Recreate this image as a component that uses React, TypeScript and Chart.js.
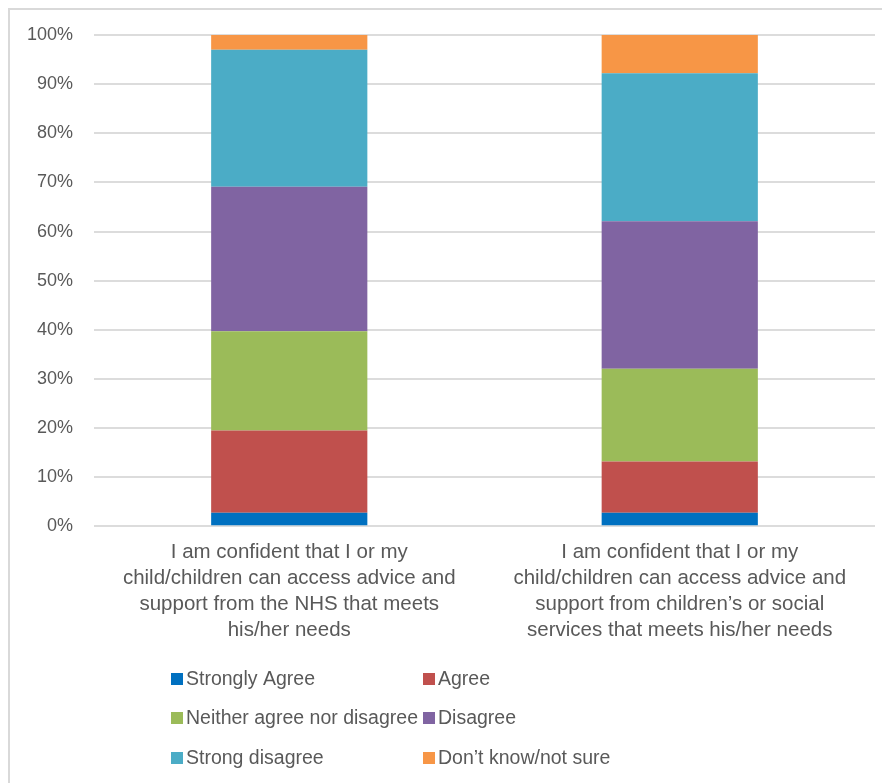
import React, { useEffect, useRef } from "react";
import { Chart, registerables } from "chart.js";

Chart.register(...registerables);

const categories: string[][] = [
  ["I am confident that I or my", "child/children can access advice and", "support from the NHS that meets", "his/her needs"],
  ["I am confident that I or my", "child/children can access advice and", "support from children\u2019s or social", "services that meets his/her needs"],
];

const seriesNames = [
  "Strongly Agree",
  "Agree",
  "Neither agree nor disagree",
  "Disagree",
  "Strong disagree",
  "Don\u2019t know/not sure",
];

const stronglyAgree = [2.75, 2.75];
const agree = [16.75, 10.45];
const neither = [20.2, 18.9];
const disagree = [29.4, 30.0];
const strongDisagree = [27.9, 30.1];
const dontKnow = [3.0, 7.8];

const seriesValues = [stronglyAgree, agree, neither, disagree, strongDisagree, dontKnow];
const seriesColors = ["#0070C0", "#C0504D", "#9BBB59", "#8064A2", "#4BACC6", "#F79646"];

const yTicks = [0, 10, 20, 30, 40, 50, 60, 70, 80, 90, 100];

const FONT = "'Liberation Sans', Arial, sans-serif";
const TEXT = "#595959";

const gridLegend = {
  id: "gridLegend",
  afterDraw(chart: any) {
    const ctx = chart.ctx;
    const ds = chart.data.datasets;
    const colX = [161, 413];
    const rowY = [669, 708, 748];
    ctx.save();
    ctx.font = `19.5px ${FONT}`;
    ctx.textBaseline = "middle";
    ctx.textAlign = "left";
    ds.forEach((d: any, i: number) => {
      const x = colX[i % 2];
      const y = rowY[Math.floor(i / 2)];
      ctx.fillStyle = d.backgroundColor;
      ctx.fillRect(x, y - 6, 12, 12);
      ctx.fillStyle = TEXT;
      ctx.fillText(d.label, x + 15, y + 1);
    });
    ctx.restore();
  },
};

export default function App() {
  const ref = useRef<HTMLCanvasElement | null>(null);

  useEffect(() => {
    document.documentElement.style.overflow = "hidden";
    if (!ref.current) return;
    const chart = new Chart(ref.current, {
      type: "bar",
      data: {
        labels: categories,
        datasets: seriesNames.map((name, i) => ({
          label: name,
          data: seriesValues[i],
          backgroundColor: seriesColors[i],
          borderWidth: 0,
          categoryPercentage: 1,
          barPercentage: 0.4,
        })),
      },
      options: {
        animation: false,
        responsive: false,
        maintainAspectRatio: false,
        layout: { padding: { left: 0, right: 15, top: 25, bottom: 135.5 } },
        plugins: {
          legend: { display: false },
          tooltip: { enabled: false },
        },
        scales: {
          x: {
            stacked: true,
            grid: { display: false },
            border: { display: false },
            ticks: {
              color: TEXT,
              font: { family: FONT, size: 20.5, lineHeight: 1.27 },
              maxRotation: 0,
              autoSkip: false,
              padding: 4.5,
            },
          },
          y: {
            stacked: true,
            min: 0,
            max: 100,
            afterBuildTicks: (axis: any) => {
              axis.ticks = yTicks.map((v) => ({ value: v }));
            },
            afterFit: (axis: any) => {
              axis.width = 84;
              axis.paddingTop = 0;
              axis.paddingBottom = 0;
            },
            grid: { color: "#dcdcdc", lineWidth: 2, drawTicks: false },
            border: { display: false },
            ticks: {
              color: TEXT,
              font: { family: FONT, size: 18 },
              padding: 21,
              callback: (v: any) => `${v}%`,
            },
          },
        },
      },
      plugins: [gridLegend],
    });
    return () => chart.destroy();
  }, []);

  return (
    <div
      style={{
        position: "relative",
        width: 882,
        height: 775,
        borderTop: "2px solid #d9d9d9",
        borderLeft: "2px solid #d9d9d9",
        boxSizing: "border-box",
        overflow: "hidden",
      }}
    >
      <canvas ref={ref} width={880} height={773} style={{ display: "block" }} />
    </div>
  );
}
